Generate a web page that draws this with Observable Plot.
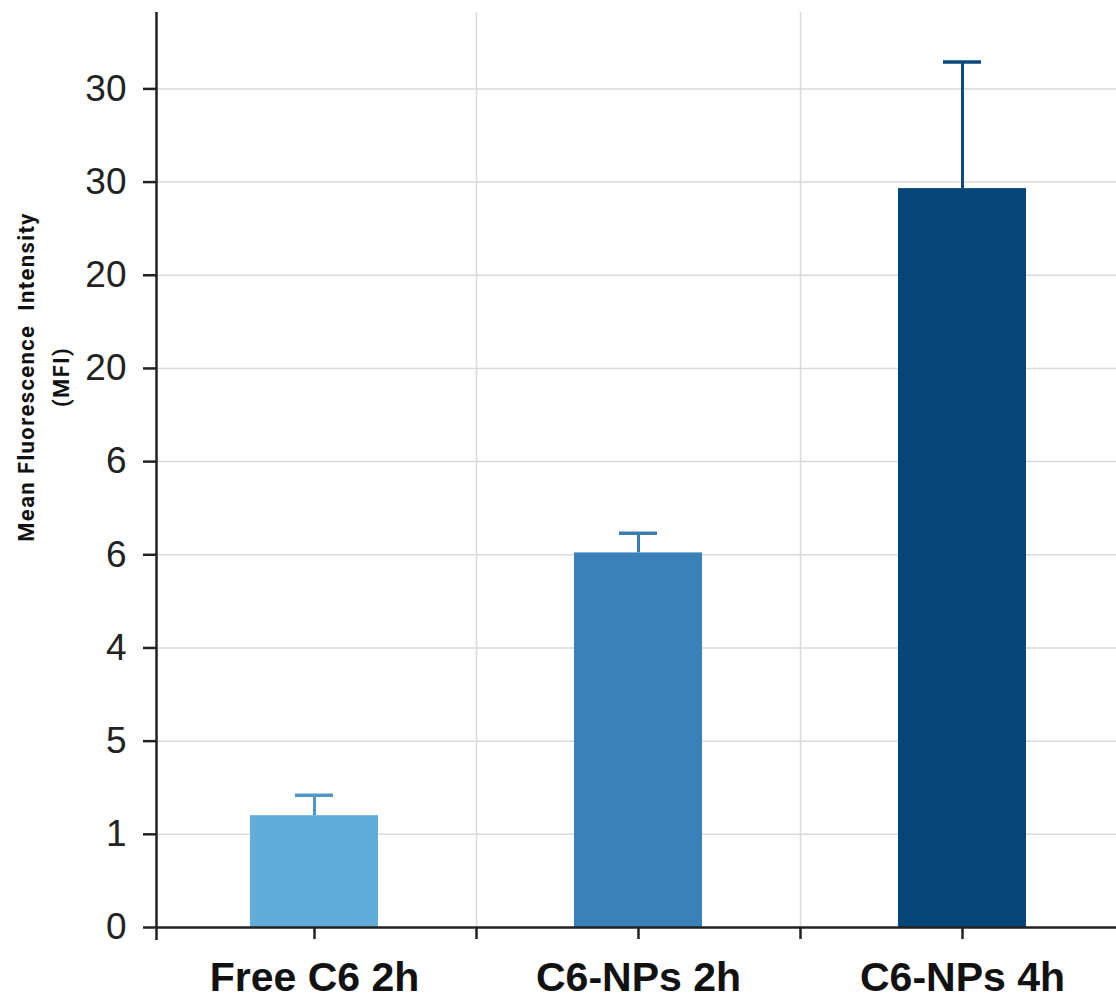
<!DOCTYPE html>
<html><head><meta charset="utf-8">
<script src="https://cdn.jsdelivr.net/npm/d3@7"></script>
<script src="https://cdn.jsdelivr.net/npm/@observablehq/plot@0.6"></script>
<style>
body{margin:0;background:#fff}
g[aria-label="text"] text{letter-spacing:1.4px}
</style>
</head><body><div id="chart"></div>
<script>
const categories = ["Free C6 2h", "C6-NPs 2h", "C6-NPs 4h"];
const means = [1.20, 4.02, 7.93];
const errors = [0.22, 0.21, 1.36];
const barColors = ["#62acd9", "#3a80b9", "#064578"];
const errColors = ["#4f97c8", "#3a7db3", "#0b4a7e"];
const yTickPositions = [0, 1, 2, 3, 4, 5, 6, 7, 8, 9];
const yTickLabels = ["0", "1", "5", "4", "6", "6", "20", "20", "30", "30"];
const yLabel = "Mean Fluorescence  Intensity\n(MFI)";

const data = categories.map((c, i) => ({cat: c, mean: means[i], top: means[i] + errors[i], fill: barColors[i], ec: errColors[i]}));
const yMax = 9.82;
const axisColor = "#222";

const chart = Plot.plot({
  width: 1116, height: 1005,
  marginLeft: 156, marginRight: 0, marginTop: 12, marginBottom: 78,
  style: {fontFamily: "'Liberation Sans', Arial, sans-serif", background: "#fff"},
  x: {type: "band", domain: categories, padding: 0, range: [152, 1124], axis: null},
  y: {domain: [0, yMax], axis: null},
  marks: [
    Plot.ruleY(yTickPositions.slice(1), {stroke: "#d9d9d9", strokeWidth: 1.5}),
    Plot.ruleX(categories, {x: d => d, dx: 162, stroke: "#d9d9d9", strokeWidth: 1.5}),
    Plot.barY(data, {x: "cat", y: "mean", fill: "fill", insetLeft: 98, insetRight: 98}),
    Plot.ruleX(data, {x: "cat", y1: "mean", y2: "top", stroke: "ec", strokeWidth: 3}),
    Plot.tickY(data, {x: "cat", y: "top", stroke: "ec", strokeWidth: 3.5, insetLeft: 143, insetRight: 143}),
    Plot.ruleY([0], {stroke: axisColor, strokeWidth: 2.5}),
    Plot.ruleX([categories[0]], {x: d => d, dx: -158, y1: -0.14, y2: yMax, stroke: axisColor, strokeWidth: 2.5}),
    Plot.axisY({ticks: yTickPositions, tickFormat: i => yTickLabels[i], tickSize: 13, tickPadding: 17, fontSize: 37, stroke: axisColor, fill: axisColor, strokeWidth: 2.5, label: null}),
    Plot.axisX({tickSize: 12, tickPadding: 22, fontSize: 41, fontWeight: "bold", stroke: axisColor, fill: "#111", strokeWidth: 2.5, label: null}),
    Plot.axisX({tickSize: 12, dx: 162, tickFormat: () => "", stroke: axisColor, strokeWidth: 2.5, label: null}),
    Plot.text([yLabel], {text: d => d, frameAnchor: "left", textAnchor: "middle", lineAnchor: "middle", rotate: -90, dx: -116, dy: -93, fontSize: 22, fontWeight: "bold", lineHeight: 1.6, fill: "#111", fontFamily: "Roboto"})
  ]
});
document.getElementById("chart").appendChild(chart);
</script>
</body></html>
